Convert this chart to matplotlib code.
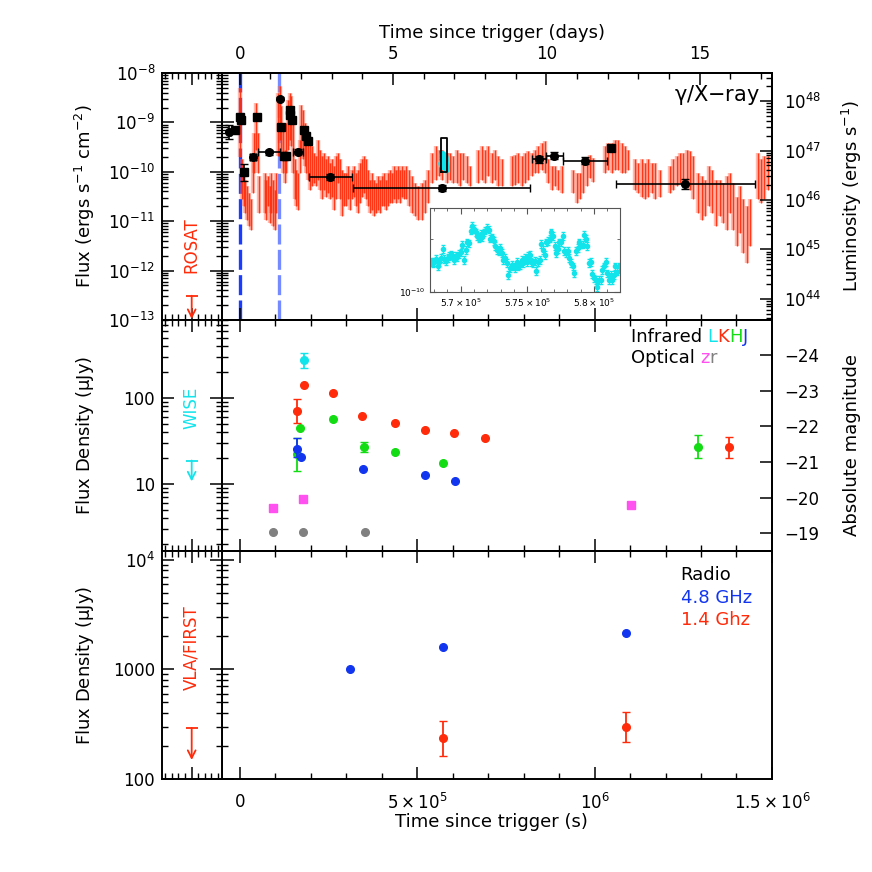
import matplotlib

matplotlib.use("Agg")
import matplotlib.pyplot as plt
import numpy as np
from matplotlib.ticker import (FixedLocator, FixedFormatter, MultipleLocator,
                               LogLocator, NullFormatter, FuncFormatter)

plt.rcParams["font.family"] = ["DejaVu Sans"]
plt.rcParams["mathtext.default"] = "regular"

RED = "#ff2b0a"
GREEN = "#14dc14"
BLUE = "#1236f0"
CYAN = "#12e4ec"
MAGENTA = "#ff50f0"
GREY = "#808080"
DASH_BLUE = "#1a3cff"

# ---- gamma / X-ray: XRT light curve, read as (time ks, log10 upper, log10 lower)
XRT_T_KS = [0.8, 6.4, 11.1, 15.8, 20.4, 25.1, 30.8, 36.4, 41.1, 46.7, 51.4, 55.2,
            70.2, 74.9, 79.6, 84.3, 89.0, 93.7, 98.4, 103.1, 107.8, 112.5, 117.2,
            121.9, 126.6, 131.3, 136.0, 140.7, 145.4, 150.1, 154.8, 159.5, 164.2,
            168.9, 173.6, 178.2, 182.9, 187.6, 192.3, 198.0, 203.6, 209.2, 214.9,
            220.5, 226.2, 231.8, 237.4, 243.1, 248.7, 254.3, 260.0, 265.6, 271.2,
            276.9, 282.5, 288.1, 293.8, 299.4, 305.0, 310.7, 316.3, 322.0, 327.6,
            333.2, 338.9, 344.5, 350.1, 355.8, 361.4, 367.0, 372.7, 378.3, 384.0,
            389.6, 395.2, 400.9, 406.5, 412.1, 417.8, 423.4, 429.0, 434.7, 440.3,
            445.9, 451.6, 457.2, 462.9, 468.5, 476.0, 484.5, 493.9, 503.3, 512.7,
            522.0, 531.4, 542.7, 552.1, 561.5, 570.9, 583.1, 592.5, 601.9, 611.3,
            620.7, 630.1, 639.5, 648.9, 672.3, 681.7, 691.1, 700.5, 709.9, 719.3,
            728.7, 738.1, 766.3, 775.7, 785.1, 794.4, 803.8, 813.2, 822.6, 832.0,
            841.4, 850.8, 860.2, 869.6, 879.0, 888.4, 897.8, 907.2, 940.0, 949.4,
            958.8, 968.2, 977.6, 987.0, 996.4, 1029.3, 1038.7, 1048.0, 1057.4,
            1066.8, 1076.2, 1085.6, 1095.0, 1113.8, 1123.2, 1132.6, 1142.0, 1151.4,
            1160.8, 1170.2, 1184.2, 1212.4, 1221.8, 1231.2, 1240.6, 1250.0, 1259.4,
            1268.8, 1278.2, 1292.3, 1301.7, 1311.1, 1322.3, 1331.7, 1341.1, 1353.3,
            1362.7, 1372.1, 1381.5, 1390.9, 1400.3, 1409.7, 1419.1, 1428.5, 1437.9,
            1461.3, 1468.9, 1476.4, 1487.6]
XRT_HI = [-8.30, -9.75, -10.02, -10.16, -10.29, -10.43, -10.56, -9.75, -9.21, -8.61,
          -9.21, -10.09, -10.02, -10.16, -10.09, -10.29, -10.02, -10.16, -10.36,
          -10.02, -8.40, -8.27, -8.67, -9.15, -9.55, -9.01, -8.54, -8.40, -8.47,
          -9.01, -9.75, -9.96, -10.02, -9.35, -8.64, -8.74, -9.01, -9.21, -9.28,
          -9.42, -9.48, -9.62, -9.69, -9.35, -9.55, -9.69, -9.62, -9.75, -9.69,
          -9.82, -9.75, -9.89, -9.69, -9.62, -9.75, -9.96, -10.02, -10.02, -9.89,
          -10.09, -9.96, -9.89, -10.02, -9.96, -9.82, -9.75, -9.69, -9.75, -9.96,
          -10.16, -10.02, -10.16, -10.23, -10.09, -10.16, -10.09, -10.02, -10.16,
          -10.02, -9.96, -10.02, -9.89, -9.96, -9.89, -9.96, -9.89, -9.96, -9.89,
          -9.96, -10.09, -10.23, -10.29, -10.23, -10.16, -9.96, -9.62, -9.48, -9.55,
          -9.55, -9.62, -9.62, -9.69, -9.55, -9.62, -9.62, -9.69, -9.89, -9.55,
          -9.48, -9.55, -9.48, -9.62, -9.55, -9.69, -9.75, -9.69, -9.65, -9.62,
          -9.69, -9.62, -9.58, -9.62, -9.55, -9.48, -9.42, -9.38, -9.75, -9.89,
          -9.89, -9.96, -9.89, -9.96, -10.02, -10.02, -9.82, -9.75, -9.65, -9.72,
          -9.48, -9.42, -9.42, -9.35, -9.35, -9.42, -9.48, -9.55, -9.75, -9.82,
          -9.75, -9.82, -9.75, -9.82, -9.82, -9.96, -9.89, -9.75, -9.69, -9.62,
          -9.62, -9.55, -9.58, -9.69, -10.02, -10.09, -10.16, -9.89, -9.96, -10.16,
          -10.16, -10.23, -10.09, -10.02, -10.23, -10.50, -10.29, -10.56, -10.70,
          -10.56, -9.62, -9.75, -9.69, -9.69]
XRT_LO = [-9.70, -10.56, -10.70, -10.83, -10.97, -11.10, -11.17, -10.43, -10.02,
          -9.55, -10.02, -10.83, -10.83, -10.97, -10.70, -11.04, -10.83, -11.10,
          -11.17, -10.83, -9.69, -9.35, -9.69, -10.02, -10.23, -10.02, -9.55, -9.35,
          -9.48, -10.02, -10.56, -10.70, -10.77, -10.02, -9.69, -9.75, -9.89, -10.02,
          -10.16, -10.36, -10.29, -10.23, -10.29, -10.16, -10.36, -10.56, -10.36,
          -10.50, -10.43, -10.56, -10.50, -10.77, -10.56, -10.23, -10.56, -10.90,
          -10.70, -10.70, -10.56, -10.77, -10.56, -10.50, -10.70, -10.83, -10.63,
          -10.50, -10.43, -10.56, -10.70, -10.83, -10.77, -10.90, -10.83, -10.77,
          -10.83, -10.70, -10.70, -10.77, -10.70, -10.63, -10.63, -10.56, -10.63,
          -10.56, -10.63, -10.50, -10.56, -10.56, -10.70, -10.83, -10.90, -10.97,
          -10.97, -10.83, -10.63, -10.23, -10.16, -10.09, -10.16, -10.23, -10.16,
          -10.23, -10.23, -10.29, -10.16, -10.23, -10.29, -10.23, -10.16, -10.23,
          -10.09, -10.23, -10.16, -10.29, -10.29, -10.29, -10.26, -10.23, -10.29,
          -10.23, -10.16, -10.09, -10.02, -10.02, -9.96, -10.02, -10.23, -10.36,
          -10.29, -10.36, -10.43, -10.43, -10.63, -10.56, -10.43, -10.29, -10.12,
          -10.20, -10.02, -9.96, -10.02, -9.96, -9.96, -10.02, -10.02, -9.96, -10.36,
          -10.43, -10.50, -10.56, -10.50, -10.43, -10.56, -10.50, -10.43, -10.36,
          -10.29, -10.23, -10.29, -10.23, -10.36, -10.56, -10.83, -10.97, -10.90,
          -10.70, -10.83, -11.10, -10.90, -11.04, -11.17, -10.83, -11.17, -11.51,
          -11.24, -11.64, -11.85, -11.51, -10.56, -10.63, -10.56, -10.36]

# black points: squares (short exposures) and circles (binned, with x errors)
SQ_T = [-1.25e4, 1.6e3, 2.5e3, 1.2e4, 4.86e4, 1.17e5, 1.25e5, 1.29e5, 1.41e5,
        1.43e5, 1.46e5, 1.80e5, 1.86e5, 1.92e5, 1.046e6]
SQ_F = [6.9e-10, 1.26e-9, 1.13e-9, 9.8e-11, 1.30e-9, 8.1e-10, 2.06e-10, 2.06e-10,
        1.76e-9, 1.43e-9, 1.13e-9, 6.9e-10, 5.25e-10, 4.17e-10, 3.1e-10]
SQ_DEX = [0.04, 0.04, 0.04, 0.17, 0.03, 0.04, 0.04, 0.04, 0.04, 0.04, 0.04, 0.04,
          0.04, 0.04, 0.05]
CI_T = [-2.94e4, 3.65e4, 8.16e4, 1.126e5, 1.63e5, 2.55e5, 5.69e5, 8.44e5, 8.87e5,
        9.73e5, 1.256e6]
CI_F = [6.3e-10, 2.0e-10, 2.48e-10, 3.0e-9, 2.55e-10, 7.85e-11, 4.8e-11, 1.79e-10,
        2.12e-10, 1.66e-10, 5.6e-11]
CI_XERR = [4e3, 9e3, 3.1e4, 0, 1.4e4, 6e4, 2.5e5, 1.9e4, 2.3e4, 6.3e4, 1.95e5]
CI_DEX = [0.14, 0.06, 0.05, 0.03, 0.05, 0.07, 0.06, 0.07, 0.07, 0.07, 0.10]

TRIGGER_LINES = [0.0, 1.1e5]

# XMM light curve (inset), flux in 1e-10 cgs
XMM_T_KS = [567.78, 567.90, 568.03, 568.15, 568.27, 568.40, 568.52, 568.64, 568.77,
            568.89, 569.02, 569.14, 569.26, 569.39, 569.51, 569.63, 569.76, 569.88,
            570.00, 570.13, 570.25, 570.37, 570.50, 570.62, 570.74, 570.87, 570.99,
            571.12, 571.24, 571.36, 571.49, 571.61, 571.73, 571.86, 571.98, 572.10,
            572.23, 572.35, 572.47, 572.60, 572.72, 572.84, 572.97, 573.09, 573.21,
            573.34, 573.46, 573.58, 573.71, 573.83, 573.96, 574.08, 574.20, 574.33,
            574.45, 574.57, 574.70, 574.82, 574.94, 575.07, 575.19, 575.31, 575.44,
            575.56, 575.68, 575.81, 575.93, 576.05, 576.18, 576.30, 576.43, 576.55,
            576.67, 576.80, 576.92, 577.04, 577.17, 577.29, 577.41, 577.54, 577.66,
            577.78, 577.91, 578.03, 578.15, 578.28, 578.40, 578.52, 578.65, 578.77,
            578.90, 579.02, 579.14, 579.27, 579.39, 579.51, 579.64, 579.76, 579.88,
            580.01, 580.13, 580.25, 580.38, 580.50, 580.62, 580.75, 580.87, 580.99,
            581.12, 581.24, 581.37, 581.49, 581.61, 581.74, 581.86]
XMM_F = [1.49, 1.46, 1.49, 1.54, 1.40, 1.49, 1.56, 1.76, 1.54, 1.51,
         1.56, 1.60, 1.63, 1.61, 1.53, 1.60, 1.58, 1.65, 1.68, 1.86,
         1.53, 1.74, 1.91, 1.89, 2.23, 2.36, 2.28, 2.18, 2.08, 2.01,
         2.13, 2.06, 2.18, 2.23, 2.30, 2.26, 2.01, 2.04, 1.95, 1.82,
         1.74, 1.71, 1.78, 1.67, 1.53, 1.56, 1.46, 1.25, 1.37, 1.43,
         1.40, 1.37, 1.49, 1.40, 1.43, 1.53, 1.46, 1.56, 1.49, 1.60,
         1.63, 1.49, 1.46, 1.51, 1.32, 1.49, 1.53, 1.88, 1.74, 1.63,
         1.91, 1.95, 2.01, 2.18, 2.08, 1.82, 1.67, 1.76, 1.91, 1.91,
         2.08, 1.71, 1.67, 1.71, 1.56, 1.46, 1.40, 1.28, 1.71, 1.78,
         1.91, 1.86, 1.86, 2.10, 2.01, 1.82, 1.46, 1.49, 1.27, 1.20,
         1.17, 1.07, 1.17, 1.17, 1.34, 1.40, 1.49, 1.28, 1.17, 1.25,
         1.17, 1.25, 1.40, 1.31, 1.40]
XMM_REL_ERR = 0.05
XMM_BOX_T = [5.67e5, 5.83e5]
XMM_BOX_F = [1.0e-10, 4.9e-10]

LOG_LUM_OFFSET = 56.57  # log10(4 pi d_L^2)

# ---- infrared / optical (uJy)
L_T = [1.81e5]
L_F = [272]
L_ERR = [[51], [59]]
K_T = [1.60e5, 1.81e5, 2.62e5, 3.45e5, 4.38e5, 5.21e5, 6.05e5, 6.91e5, 1.38e6]
K_F = [71.3, 143, 114, 61.8, 50.8, 42.5, 39.5, 34.0, 27.0]
K_ERR_LO = [19.7, 0, 0, 0, 0, 0, 0, 0, 7.0]
K_ERR_HI = [25.3, 0, 0, 0, 0, 0, 0, 0, 8.5]
H_T = [1.60e5, 1.70e5, 2.62e5, 3.49e5, 4.38e5, 5.73e5, 1.292e6]
H_F = [22.3, 44.8, 57.0, 27.2, 23.5, 17.7, 27.2]
H_ERR_LO = [8.0, 0, 0, 3.4, 0, 0, 7.3]
H_ERR_HI = [12.2, 0, 0, 3.6, 0, 0, 9.9]
J_T = [1.60e5, 1.72e5, 3.46e5, 5.22e5, 6.07e5]
J_F = [25.5, 20.4, 14.8, 12.6, 10.9]
J_ERR_LO = [4.7, 0, 0, 0, 0]
J_ERR_HI = [9.0, 0, 0, 0, 0]
Z_T = [9.46e4, 1.78e5, 1.102e6]
Z_F = [5.3, 6.75, 5.7]
R_T = [9.46e4, 1.77e5, 3.53e5]
R_F = [2.79, 2.79, 2.79]

# ---- radio (uJy)
RAD48_T = [3.12e5, 5.72e5, 1.088e6]
RAD48_F = [1000, 1580, 2160]
RAD14_T = [5.72e5, 1.088e6]
RAD14_F = [234, 299]
RAD14_ERR = [[71, 80], [103, 112]]

# archival upper limits (bar value, arrow tip)
ROSAT_UL = [3.1e-13, 1.05e-13]
WISE_UL = [18.7, 10.7]
FIRST_UL = [292, 149]

XLIM = (-5e4, 1.5e6)
YLIM_X = (1e-13, 1e-8)
YLIM_IR = (1.66, 803)
YLIM_RAD = (100, 1.2e4)
MAG_LIM = (-18.50, -24.98)


def style(ax):
    for s in ax.spines.values():
        s.set_linewidth(1.4)
    ax.tick_params(which="major", length=8.5, width=1.1, direction="in",
                   labelsize=12)
    ax.tick_params(which="minor", length=4.5, width=1.0, direction="in")


def log_y(ax, lim):
    ax.set_yscale("log")
    ax.set_ylim(*lim)
    ax.yaxis.set_major_locator(LogLocator(base=10, numticks=20))
    ax.yaxis.set_minor_locator(LogLocator(base=10, subs=np.arange(2, 10),
                                          numticks=20))
    ax.yaxis.set_minor_formatter(NullFormatter())


def sub_err(vals, lo, hi):
    return [i for i in range(len(vals)) if lo[i] > 0 or hi[i] > 0]


def dex_err(f, d):
    f = np.asarray(f)
    d = np.asarray(d)
    return [f - f * 10 ** (-d), f * 10 ** d - f]


fig = plt.figure(figsize=(8.72, 8.72), dpi=100)
L0, W0 = 0.2546, 0.6307
SL, SW = 0.1858, 0.0688
rows = [(0.6330, 0.2833), (0.3681, 0.2649), (0.1067, 0.2615)]

ax1 = fig.add_axes([L0, rows[0][0], W0, rows[0][1]])
ax2 = fig.add_axes([L0, rows[1][0], W0, rows[1][1]])
ax3 = fig.add_axes([L0, rows[2][0], W0, rows[2][1]])
s1 = fig.add_axes([SL, rows[0][0], SW, rows[0][1]])
s2 = fig.add_axes([SL, rows[1][0], SW, rows[1][1]])
s3 = fig.add_axes([SL, rows[2][0], SW, rows[2][1]])

ax1d = ax1.twiny()
ax1r = ax1.twinx()
ax2r = ax2.twinx()

for a in (ax1, ax2, ax3, s1, s2, s3, ax1d, ax1r, ax2r):
    style(a)

# main x axes
for a in (ax1, ax2, ax3):
    a.set_xlim(*XLIM)
    a.xaxis.set_major_locator(FixedLocator([0, 5e5, 1e6, 1.5e6]))
    a.xaxis.set_minor_locator(MultipleLocator(1e5))
    a.tick_params(axis="y", which="both", left=True, right=False,
                  labelleft=False, labelright=False)
ax1.tick_params(axis="x", which="both", bottom=True, top=False,
                labelbottom=False, labeltop=False)
ax2.tick_params(axis="x", which="both", bottom=True, top=True,
                labelbottom=False, labeltop=False)
ax3.tick_params(axis="x", which="both", bottom=True, top=True,
                labelbottom=True, labeltop=False, pad=10)
ax3.xaxis.set_major_formatter(FixedFormatter(
    ["0", r"$5\times10^5$", r"$10^6$", r"$1.5\times10^6$"]))

log_y(ax1, YLIM_X)
log_y(ax2, YLIM_IR)
log_y(ax3, YLIM_RAD)

# days axis on top
ax1d.set_xlim(XLIM[0] / 86400.0, XLIM[1] / 86400.0)
ax1d.xaxis.set_major_locator(MultipleLocator(5))
ax1d.xaxis.set_minor_locator(MultipleLocator(1))
ax1d.tick_params(axis="x", which="both", top=True, bottom=False,
                 labeltop=True, labelbottom=False, pad=7)

# luminosity axis
ax1r.set_yscale("log")
ax1r.set_ylim(YLIM_X[0] * 10 ** LOG_LUM_OFFSET, YLIM_X[1] * 10 ** LOG_LUM_OFFSET)
ax1r.yaxis.set_major_locator(LogLocator(base=10, numticks=20))
ax1r.yaxis.set_minor_locator(LogLocator(base=10, subs=np.arange(2, 10), numticks=20))
ax1r.yaxis.set_minor_formatter(NullFormatter())
ax1r.tick_params(axis="y", which="both", right=True, left=False,
                 labelright=True, labelleft=False, pad=9)

# magnitude axis
ax2r.set_ylim(*MAG_LIM)
ax2r.yaxis.set_major_locator(MultipleLocator(1))
ax2r.tick_params(axis="y", which="both", right=True, left=False,
                 labelright=True, labelleft=False, pad=9)

# strips
for s, lim in ((s1, YLIM_X), (s2, YLIM_IR), (s3, YLIM_RAD)):
    s.set_xlim(-4.5, 4.6)
    s.xaxis.set_major_locator(FixedLocator([0]))
    s.xaxis.set_minor_locator(MultipleLocator(1))
    s.tick_params(axis="x", which="both", top=True, bottom=True,
                  labelbottom=False, labeltop=False)
    log_y(s, lim)
    s.tick_params(axis="y", which="both", left=True, right=True,
                  labelleft=True, labelright=False, pad=5)
s2.yaxis.set_major_formatter(FuncFormatter(lambda v, p: f"{v:g}"))
s3.yaxis.set_major_formatter(FuncFormatter(
    lambda v, p: r"$10^4$" if v > 5e3 else f"{v:g}"))


def upper_limit(ax, ul, color):
    ax.plot([-0.9, 0.9], [ul[0], ul[0]], color=color, lw=1.3,
            solid_capstyle="butt")
    ax.annotate("", xy=(0, ul[1]), xytext=(0, ul[0]),
                arrowprops=dict(arrowstyle="->,head_length=0.55,head_width=0.28",
                                color=color, lw=1.3, shrinkA=0, shrinkB=0))


upper_limit(s1, ROSAT_UL, RED)
upper_limit(s2, WISE_UL, CYAN)
upper_limit(s3, FIRST_UL, RED)
s1.text(0, 3.3e-12, "ROSAT", rotation=90, color=RED, ha="center", va="center",
        fontsize=12)
s2.text(0, 76, "WISE", rotation=90, color=CYAN, ha="center", va="center",
        fontsize=12)
s3.text(0, 1580, "VLA/FIRST", rotation=90, color=RED, ha="center", va="center",
        fontsize=12)

# ---- top panel data
for t in TRIGGER_LINES:
    ax1.axvline(t, color=DASH_BLUE, lw=2.4, ls=(0, (6, 1.6)),
                alpha=1.0 if t == 0 else 0.6, zorder=1)
xt = np.asarray(XRT_T_KS) * 1e3
xrt_hi = 10 ** np.asarray(XRT_HI)
xrt_lo = 10 ** np.asarray(XRT_LO)
# pale halo, then thin solid bars
ax1.vlines(xt, xrt_lo, xrt_hi, color="#ff6a50", lw=3.2, alpha=0.45, zorder=2)
ax1.vlines(xt, xrt_lo, xrt_hi, color=RED, lw=1.0, alpha=0.9, zorder=2)
ax1.errorbar(SQ_T, SQ_F, yerr=dex_err(SQ_F, SQ_DEX), fmt="s", ms=5.5,
             color="black", ecolor="black", elinewidth=1.2, capsize=3, zorder=5)
ax1.errorbar(CI_T, CI_F, xerr=CI_XERR, yerr=dex_err(CI_F, CI_DEX), fmt="o", ms=5.5,
             color="black", ecolor="black", elinewidth=1.2, capsize=3, zorder=5)
xmm_t = np.asarray(XMM_T_KS) * 1e3
xmm_f = np.asarray(XMM_F) * 1e-10
ax1.errorbar(xmm_t, xmm_f, yerr=xmm_f * XMM_REL_ERR, fmt="o", ms=3, color=CYAN,
             ecolor=CYAN, elinewidth=0.8, zorder=6)
bx = [XMM_BOX_T[0], XMM_BOX_T[1], XMM_BOX_T[1], XMM_BOX_T[0], XMM_BOX_T[0]]
by = [XMM_BOX_F[0], XMM_BOX_F[0], XMM_BOX_F[1], XMM_BOX_F[1], XMM_BOX_F[0]]
ax1.plot(bx, by, color="black", lw=1.3, zorder=7)
ax1.text(0.978, 0.91, r"$\gamma$/X$-$ray", transform=ax1.transAxes, ha="right",
         va="center", fontsize=15)

# inset
axi = fig.add_axes([0.4931, 0.6648, 0.2179, 0.0970])
for sp in axi.spines.values():
    sp.set_linewidth(0.8)
    sp.set_color("#555555")
axi.errorbar(xmm_t, xmm_f, yerr=xmm_f * XMM_REL_ERR, fmt="o", ms=3, color=CYAN,
             ecolor=CYAN, elinewidth=0.8, capsize=1.5)
axi.set_xlim(567.70e3, 581.95e3)
axi.set_yscale("log")
axi.set_ylim(1e-10, 3e-10)
axi.xaxis.set_major_locator(FixedLocator([5.7e5, 5.75e5, 5.8e5]))
axi.xaxis.set_minor_locator(MultipleLocator(1e3))
axi.xaxis.set_major_formatter(FixedFormatter(
    [r"$5.7\times10^5$", r"$5.75\times10^5$", r"$5.8\times10^5$"]))
axi.yaxis.set_major_locator(FixedLocator([1e-10]))
axi.yaxis.set_major_formatter(FixedFormatter([r"$10^{-10}$"]))
axi.yaxis.set_minor_locator(FixedLocator([2e-10]))
axi.yaxis.set_minor_formatter(NullFormatter())
axi.tick_params(which="both", direction="in", top=True, right=True, labelsize=6.5,
                color="#555555", pad=3)
axi.tick_params(which="major", length=4)
axi.tick_params(which="minor", length=2.5)


# ---- middle panel data
def ir_series(ax, t, f, lo, hi, color, marker="o"):
    ax.plot(t, f, marker, color=color, ms=5.5, zorder=4)
    idx = sub_err(f, lo, hi)
    if idx:
        ax.errorbar([t[i] for i in idx], [f[i] for i in idx],
                    yerr=[[lo[i] for i in idx], [hi[i] for i in idx]],
                    fmt="none", ecolor=color, elinewidth=1.3, capsize=3, zorder=4)


ir_series(ax2, R_T, R_F, [0] * 3, [0] * 3, GREY)
ir_series(ax2, Z_T, Z_F, [0] * 3, [0] * 3, MAGENTA, marker="s")
ir_series(ax2, H_T, H_F, H_ERR_LO, H_ERR_HI, GREEN)
ir_series(ax2, J_T, J_F, J_ERR_LO, J_ERR_HI, BLUE)
ir_series(ax2, K_T, K_F, K_ERR_LO, K_ERR_HI, RED)
ir_series(ax2, L_T, L_F, L_ERR[0], L_ERR[1], CYAN)

# ---- bottom panel data
ax3.plot(RAD48_T, RAD48_F, "o", color=BLUE, ms=5.5)
ax3.errorbar(RAD14_T, RAD14_F, yerr=RAD14_ERR, fmt="o", ms=5.5, color=RED,
             ecolor=RED, elinewidth=1.3, capsize=3)


# ---- legends as coloured text
def rainbow_text(ax, x, y, parts, size=13):
    fig.canvas.draw()
    r = fig.canvas.get_renderer()
    for s, c in parts:
        t = ax.text(x, y, s, color=c, transform=ax.transAxes, fontsize=size,
                    ha="left", va="baseline")
        bb = t.get_window_extent(renderer=r)
        x = ax.transAxes.inverted().transform((bb.x1, bb.y0))[0]


rainbow_text(ax2, 0.743, 0.905, [("Infrared ", "black"), ("L", CYAN), ("K", RED),
                                 ("H", GREEN), ("J", BLUE)])
rainbow_text(ax2, 0.743, 0.815, [("Optical ", "black"), ("z", MAGENTA), ("r", GREY)])
ax3.text(0.834, 0.873, "Radio", transform=ax3.transAxes, fontsize=13, color="black")
ax3.text(0.834, 0.773, "4.8 GHz", transform=ax3.transAxes, fontsize=13, color=BLUE)
ax3.text(0.834, 0.673, "1.4 Ghz", transform=ax3.transAxes, fontsize=13, color=RED)

# ---- axis titles
fig.text(0.564, 0.962, "Time since trigger (days)", ha="center", va="center",
         fontsize=13)
fig.text(0.564, 0.057, "Time since trigger (s)", ha="center", va="center",
         fontsize=13)
fig.text(0.097, 0.775, r"Flux (ergs s$^{-1}$ cm$^{-2}$)", rotation=90,
         ha="center", va="center", fontsize=13)
fig.text(0.097, 0.501, r"Flux Density ($\mu$Jy)", rotation=90, ha="center",
         va="center", fontsize=13)
fig.text(0.097, 0.237, r"Flux Density ($\mu$Jy)", rotation=90, ha="center",
         va="center", fontsize=13)
fig.text(0.977, 0.775, r"Luminosity (ergs s$^{-1}$)", rotation=90, ha="center",
         va="center", fontsize=13)
fig.text(0.977, 0.49, "Absolute magnitude", rotation=90, ha="center",
         va="center", fontsize=13)

fig.savefig("out.png", dpi=100)
